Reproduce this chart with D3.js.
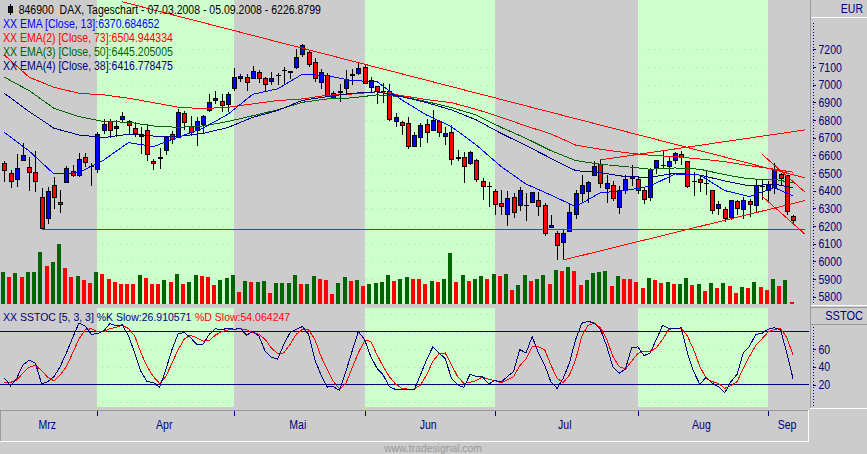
<!DOCTYPE html>
<html lang="de">
<head>
	<meta charset="utf-8">
	<title>DAX Tageschart</title>
	<script src="https://d3js.org/d3.v7.min.js"></script>
	<style>
		html, body { margin: 0; padding: 0; background: #cccccc; overflow: hidden; }
		svg { display: block; }
		text { font-family: "Liberation Sans", Arial, sans-serif; font-size: 12px; }
		.tick text { fill: #000080; font-size: 12.5px; }
		.crisp { shape-rendering: crispEdges; }
	</style>
</head>
<body>
	<div id="chart"></div>
<script>
	// Daily candles, 07.03.2008 - 05.09.2008
	var opens = [6557,6495,6465,6574,6533,6504,6363,6244,6429,6336,6446,6510,6486,6589,6536,6521,6744,6790,6752,6801,
		6792,6754,6718,6742,6567,6584,6627,6720,6703,6839,6763,6740,6776,6854,6911,6907,6890,6979,7037,7041,
		7035,7071,7035,7018,7053,7080,7072,7098,7173,7184,7128,7014,7054,6922,6959,6979,7055,7064,7099,6986,
		6992,6962,6962,6792,6788,6782,6650,6701,6776,6742,6793,6706,6731,6585,6589,6553,6572,6453,6422,6397,
		6325,6266,6363,6317,6314,6334,6346,6317,6193,6159,6108,6172,6266,6386,6395,6488,6550,6414,6431,6304,
		6404,6471,6465,6404,6363,6531,6541,6537,6574,6607,6567,6451,6465,6439,6403,6301,6295,6248,6340,6295,
		6340,6316,6424,6401,6420,6491,6484,6255];
	var closes = [6514,6452,6527,6601,6502,6452,6185,6397,6363,6323,6527,6489,6578,6559,6537,6720,6776,6742,6765,6822,
		6771,6724,6707,6604,6553,6587,6703,6688,6844,6788,6729,6795,6822,6897,6924,6882,6946,7043,7048,7014,
		7077,7035,7003,7037,7055,7082,7074,7156,7224,7115,7037,7071,6941,6952,6961,7031,7057,7094,7007,7022,
		6960,6964,6803,6816,6769,6650,6714,6767,6731,6799,6731,6722,6578,6587,6538,6618,6463,6423,6424,6323,
		6312,6357,6278,6402,6316,6389,6312,6159,6204,6091,6159,6278,6385,6431,6448,6539,6442,6442,6355,6404,
		6465,6480,6403,6352,6520,6569,6543,6567,6612,6588,6423,6453,6446,6441,6289,6323,6244,6346,6299,6346,
		6321,6427,6426,6427,6520,6469,6284,6234];
	var highs = [6570,6518,6606,6669,6593,6625,6414,6423,6480,6404,6542,6546,6612,6612,6555,6735,6805,6805,6801,6846,
		6801,6788,6759,6776,6580,6640,6710,6740,6865,6854,6824,6816,6829,6948,6965,6948,6962,7096,7062,7062,
		7107,7084,7047,7071,7069,7103,7077,7203,7230,7194,7150,7088,7069,6963,7005,7084,7088,7126,7113,7047,
		6994,7009,7003,6839,6797,6816,6735,6782,6809,6858,6801,6763,6773,6631,6620,6627,6578,6470,6452,6408,
		6404,6397,6385,6419,6385,6395,6395,6332,6263,6172,6178,6325,6404,6489,6456,6569,6574,6489,6456,6429,
		6489,6544,6484,6414,6531,6574,6627,6590,6618,6627,6569,6508,6489,6518,6404,6340,6306,6348,6348,6367,
		6353,6465,6465,6456,6556,6499,6489,6263];
	var lows = [6452,6418,6419,6569,6399,6391,6181,6212,6295,6276,6446,6480,6480,6533,6429,6499,6722,6697,6703,6792,
		6718,6707,6608,6570,6518,6523,6601,6665,6699,6744,6710,6656,6725,6846,6892,6848,6846,6967,7014,6967,
		7031,7013,6960,6997,6999,6999,7031,7088,7160,7099,7018,6975,6937,6918,6905,6943,6999,7056,7003,6962,
		6894,6899,6797,6761,6716,6638,6650,6650,6673,6741,6706,6661,6548,6570,6446,6548,6452,6348,6310,6264,
		6263,6202,6248,6287,6230,6332,6259,6146,6189,6008,6008,6165,6242,6333,6329,6484,6418,6333,6344,6270,
		6380,6427,6384,6327,6344,6497,6522,6446,6552,6546,6418,6371,6393,6376,6270,6263,6225,6233,6263,6242,
		6253,6272,6348,6338,6382,6433,6263,6212];

	// Volume has no axis in the picture, so these are relative units
	var volume = [94,79,91,79,94,96,154,112,124,180,106,79,82,70,61,94,88,73,64,58,
		58,58,85,76,58,58,70,64,88,58,64,85,82,79,55,70,76,85,34,67,
		64,64,67,31,61,61,61,85,58,58,82,73,70,28,61,79,67,70,52,58,
		61,64,85,67,73,79,73,73,58,67,64,73,151,64,85,67,73,82,73,88,
		82,88,42,55,85,67,73,85,58,100,97,109,97,55,70,91,94,97,52,82,
		73,73,64,46,76,70,61,64,58,58,76,55,58,37,61,46,61,52,31,49,
		46,64,49,40,73,52,70,6];
	var volumeUp = [1,0,1,0,1,1,1,0,1,1,0,0,1,0,0,1,0,0,0,0,
		0,0,1,0,0,0,1,0,1,0,1,1,0,0,0,1,1,1,0,1,
		0,1,1,0,1,1,1,1,0,1,1,0,0,0,1,1,0,1,0,1,
		1,1,1,0,1,1,0,0,0,1,0,1,1,0,1,0,1,1,0,1,
		0,1,0,1,1,0,1,1,0,1,0,1,0,0,1,1,1,1,0,1,
		0,0,0,0,1,0,0,1,0,1,1,0,1,0,1,0,1,0,0,1,
		0,1,0,0,1,0,1,0];

	var emaBars = [0,4,8,12,16,20,24,28,32,36,40,44,48,52,56,60,64,68,72,76,80,84,88,92,96,100,104,108,112,116,120,124,127];
	var ema13 = [6731,6625,6495,6502,6574,6673,6650,6703,6754,6833,6946,6977,7060,7052,7024,7018,6914,6829,6763,6659,6537,6438,6376,6310,6389,6401,6427,6495,6489,6401,6367,6418,6371];
	var ema73 = [7169,7043,6986,6952,6943,6924,6899,6873,6865,6873,6892,6911,6920,6941,6948,6960,6939,6916,6899,6861,6816,6767,6722,6659,6635,6616,6601,6593,6580,6565,6542,6522,6505];
	var ema50 = [7043,6967,6867,6820,6792,6788,6767,6759,6767,6792,6825,6858,6901,6920,6926,6943,6933,6905,6871,6829,6759,6697,6627,6571,6550,6537,6522,6529,6522,6491,6467,6465,6445];
	var ema38 = [6952,6848,6754,6716,6701,6720,6710,6707,6725,6758,6816,6854,6912,6933,6952,6960,6933,6899,6858,6801,6725,6656,6584,6514,6503,6480,6476,6499,6489,6456,6427,6438,6417];

	// Trend lines: start bar, start price, end bar, end price
	var trendLines = [
		[19, 7470, 129, 6473],
		[6, 6182, 129, 6182],
		[90, 6008, 129, 6345],
		[96, 6575, 129, 6745],
		[122, 6607, 129, 6390],
		[122, 6370, 129, 6152]
	];

	// Slow stochastic
	var stochK = [27.6,18.8,27.2,42.5,47.5,44.4,21.1,23.4,29.1,40.6,55.9,73.1,89.5,86.5,76.9,77.7,80.7,89.1,86.8,87.6,
		75,55.9,34.9,23.4,22.6,16.9,36.8,59.7,77.7,78.8,73.1,65.5,65.8,76.9,83.4,81.9,84.2,82.6,83.8,76.1,
		80,75,57.8,50.9,49,65.5,78.8,82.6,85.7,76.9,48.2,31,17.3,17.7,13.5,34.9,57.8,80,71.2,52,
		38.7,31,17.7,14.6,14.2,14.2,14.2,31,48.2,62.8,55.9,49.4,27.2,19.6,16.9,31.8,29.1,28.8,20.7,24.9,
		23,29.1,34.9,59.7,55.9,74.2,55.9,42.5,23.4,15.8,27.2,44.4,71.2,89.5,91.8,89.5,82.6,63.5,39.8,32.9,
		37.5,61.6,62.8,52.8,55.9,71.2,87.2,83.4,83.4,84.2,55.9,34.9,20.3,28.4,21.5,17.7,10.8,23.4,31.8,55.9,
		63.5,76.9,78,82.6,84.5,81.9,55.9,26.9];
	var stochD = [22.6,22.6,25.3,33,39.8,42.1,36,28.4,24.2,31,40.6,55.9,71.2,81.9,83.4,79.6,79.6,83.4,84.9,87.2,
		83.4,75,55.9,40.6,29.1,21.5,29.1,44.4,59.7,71.9,75.8,73.1,69.3,70,76.1,80,81.9,82.6,83.4,81.9,
		78.8,76.9,71.2,61.6,55.1,55.9,65.5,76.9,82.6,81.9,71.2,52,36.8,23.4,15,21.5,38.7,55.9,69.6,69.3,
		54,40.6,29.1,20.7,15.8,15,15,19.6,31,46.3,55.1,55.9,42.5,29.1,21.5,22.6,24.6,28.8,26.1,24.6,
		22.3,25.3,29.1,41.4,49,62.8,62.8,59.7,42.5,27.2,22.3,31,48.2,75,87.2,89.5,84.5,71.2,52,40.6,
		37.5,46.3,55.1,57.8,57.8,61.6,71.2,82.6,83.8,83.8,75,59.7,40.6,27.2,23.4,21.5,15.8,18.8,23.4,38.7,
		52,64.3,71.9,79.6,82.6,83.4,73.1,54.1];

	var priceTicks = d3.range(5800, 7201, 100);
	var stochTicks = [20, 40, 60];
	var stochGrid = [0, 20, 40, 60, 80, 100];
	var stochLevels = [20, 80];

	// Bar index of the first trading day per month
	var monthStarts = [15, 37, 58, 79, 102, 123];
	var monthNames = ["Mrz", "Apr", "Mai", "Jun", "Jul", "Aug", "Sep"];

	var w = 867;
	var h = 454;
	var plotRight = 809;
	var lastBar = opens.length - 1;

	var x = d3.scaleLinear().domain([0, lastBar]).range([4.33, 4.33 + 6.21 * lastBar]);
	var yPrice = d3.scaleLinear().domain([5770, 7367]).range([302, 20]);
	var yVolume = d3.scaleLinear().domain([0, 180]).range([303.7, 243.7]);
	var yStoch = d3.scaleLinear().domain([-3, 87.5]).range([405, 325]);

	var svg = d3.select("#chart").append("svg")
		.attr("width", w)
		.attr("height", h);

	svg.append("rect").attr("width", w).attr("height", h).attr("fill", "#cccccc");

	// The terminal font is tall and narrow, so squeeze the text sideways
	function squeeze(sel, factor) {
		sel.each(function() {
			d3.select(this)
				.attr("lengthAdjust", "spacingAndGlyphs")
				.attr("textLength", this.getComputedTextLength() * (factor || 0.875));
		});
	}

	// Green bands for every second month
	var bands = [[monthStarts[0], monthStarts[1]], [monthStarts[2], monthStarts[3]], [monthStarts[4], monthStarts[5]]];
	var panels = [[0, 304], [308, 406.7]];
	panels.forEach(function(p) {
		svg.append("g").selectAll("rect")
			.data(bands)
			.enter().append("rect")
			.attr("class", "crisp")
			.attr("x", function(d) { return x(d[0]); })
			.attr("width", function(d) { return x(d[1]) - x(d[0]); })
			.attr("y", p[0])
			.attr("height", p[1] - p[0])
			.attr("fill", "#ccffcc");
	});

	// Dotted grid
	function grid(values, scale) {
		svg.append("g").selectAll("line")
			.data(values)
			.enter().append("line")
			.attr("class", "crisp")
			.attr("x1", 0)
			.attr("x2", plotRight)
			.attr("y1", function(d) { return Math.round(scale(d)) + 0.5; })
			.attr("y2", function(d) { return Math.round(scale(d)) + 0.5; })
			.attr("stroke", "#c8c8c8")
			.attr("stroke-dasharray", "1,5");
	}
	grid(priceTicks, yPrice);
	grid(stochGrid, yStoch);

	// Volume bars
	svg.append("g").selectAll("rect")
		.data(volume)
		.enter().append("rect")
		.attr("class", "crisp")
		.attr("x", function(d, i) { return x(i) - 3.3; })
		.attr("width", 4)
		.attr("y", function(d) { return yVolume(d); })
		.attr("height", function(d) { return yVolume(0) - yVolume(d); })
		.attr("fill", function(d, i) { return volumeUp[i] ? "#006400" : "#ff0000"; });

	// Candles
	var candle = svg.append("g").selectAll("g")
		.data(opens)
		.enter().append("g");

	candle.append("line")
		.attr("class", "crisp")
		.attr("x1", function(d, i) { return Math.round(x(i)) + 0.5; })
		.attr("x2", function(d, i) { return Math.round(x(i)) + 0.5; })
		.attr("y1", function(d, i) { return yPrice(highs[i]); })
		.attr("y2", function(d, i) { return yPrice(lows[i]); })
		.attr("stroke", "#000000");

	candle.append("rect")
		.attr("class", "crisp")
		.attr("x", function(d, i) { return Math.round(x(i)) - 1.5; })
		.attr("width", 4)
		.attr("y", function(d, i) { return yPrice(Math.max(d, closes[i])); })
		.attr("height", function(d, i) { return Math.abs(yPrice(d) - yPrice(closes[i])); })
		.attr("fill", function(d, i) { return closes[i] >= d ? "#0000ff" : "#ff0000"; })
		.attr("stroke", "#000000");

	// Moving averages
	var emaLine = d3.line()
		.x(function(d, i) { return x(emaBars[i]); })
		.y(function(d) { return yPrice(d); });

	[[ema73, "#ff0000"], [ema50, "#006400"], [ema38, "#000080"], [ema13, "#0000ff"]].forEach(function(s) {
		svg.append("path")
			.attr("class", "crisp")
			.attr("d", emaLine(s[0]))
			.attr("fill", "none")
			.attr("stroke", s[1]);
	});

	// Trend lines
	svg.append("g").selectAll("line")
		.data(trendLines)
		.enter().append("line")
		.attr("class", "crisp")
		.attr("x1", function(d) { return x(d[0]); })
		.attr("y1", function(d) { return yPrice(d[1]); })
		.attr("x2", function(d) { return x(d[2]); })
		.attr("y2", function(d) { return yPrice(d[3]); })
		.attr("stroke", "#ff0000");

	// Stochastic panel
	svg.append("g").selectAll("line")
		.data(stochLevels)
		.enter().append("line")
		.attr("class", "crisp")
		.attr("x1", 0)
		.attr("x2", plotRight)
		.attr("y1", function(d) { return yStoch(d); })
		.attr("y2", function(d) { return yStoch(d); })
		.attr("stroke", "#000080");

	var stochLine = d3.line()
		.x(function(d, i) { return x(i); })
		.y(function(d) { return yStoch(d); });

	[[stochD, "#ff0000"], [stochK, "#000080"]].forEach(function(s) {
		svg.append("path")
			.attr("class", "crisp")
			.attr("d", stochLine(s[0]))
			.attr("fill", "none")
			.attr("stroke", s[1]);
	});

	// Right hand axes
	function styleAxis(g) {
		g.select(".domain").attr("stroke", "#000080").attr("stroke-dasharray", "1,2").attr("class", "domain crisp");
		g.selectAll(".tick line").attr("stroke", "#000080").attr("class", "crisp");
		g.selectAll(".tick text").attr("x", 6).call(squeeze, 0.84);
	}
	svg.append("g")
		.attr("transform", "translate(812.5,0)")
		.call(d3.axisRight(yPrice).tickValues(priceTicks).tickSize(3).tickSizeOuter(0).tickFormat(d3.format("d")))
		.call(styleAxis);
	svg.append("g")
		.attr("transform", "translate(812.5,0)")
		.call(d3.axisRight(yStoch).tickValues(stochTicks).tickSize(3).tickSizeOuter(0).tickFormat(d3.format("d")))
		.call(styleAxis);

	// Frames around the axis and time strip
	function frameLine(x1, y1, x2, y2, color) {
		svg.append("line")
			.attr("class", "crisp")
			.attr("x1", x1).attr("y1", y1).attr("x2", x2).attr("y2", y2)
			.attr("stroke", color);
	}
	frameLine(810.5, 0, 810.5, 408, "#999999");
	frameLine(811, 17.5, w, 17.5, "#ffffff");
	frameLine(811, 305.5, w, 305.5, "#ffffff");
	frameLine(811, 307.5, w, 307.5, "#999999");
	frameLine(811, 324.5, w, 324.5, "#999999");
	frameLine(810, 408.5, w, 408.5, "#ffffff");
	frameLine(0, 410.5, 808, 410.5, "#999999");
	frameLine(0.5, 410, 0.5, 441, "#999999");
	frameLine(0, 441.5, 809, 441.5, "#ffffff");
	frameLine(808.5, 410, 808.5, 441, "#ffffff");

	svg.append("text").attr("x", 863).attr("y", 13).attr("text-anchor", "end").attr("fill", "#000080").text("EUR").call(squeeze);
	svg.append("text").attr("x", 863).attr("y", 320).attr("text-anchor", "end").attr("fill", "#000080").text("SSTOC").call(squeeze, 0.92);

	// Time axis
	var monthEdges = [0].concat(monthStarts.map(function(d) { return x(d); })).concat([plotRight]);
	svg.append("g").selectAll("line")
		.data(monthStarts)
		.enter().append("line")
		.attr("class", "crisp")
		.attr("x1", function(d) { return Math.round(x(d)) + 0.5; })
		.attr("x2", function(d) { return Math.round(x(d)) + 0.5; })
		.attr("y1", 411)
		.attr("y2", 416)
		.attr("stroke", "#000080");
	svg.append("g").selectAll("text")
		.data(monthNames)
		.enter().append("text")
		.attr("x", function(d, i) { return (monthEdges[i] + monthEdges[i + 1]) / 2 - 1.5; })
		.attr("y", 429)
		.attr("text-anchor", "middle")
		.attr("fill", "#000080")
		.text(function(d) { return d; })
		.call(squeeze);

	svg.append("text").attr("x", 433).attr("y", 452).attr("text-anchor", "middle").attr("fill", "#999999").style("font-size", "11px").text("www.tradesignal.com").call(squeeze, 0.94);

	// Legend
	var legendRows = [
		["XX EMA [Close, 13]:6370.684652", "#0000ff", 28],
		["XX EMA(2) [Close, 73]:6504.944334", "#ff0000", 42],
		["XX EMA(3) [Close, 50]:6445.205005", "#006400", 56],
		["XX EMA(4) [Close, 38]:6416.778475", "#000080", 70]
	];
	svg.append("g").selectAll("text")
		.data(legendRows)
		.enter().append("text")
		.attr("x", 3)
		.attr("y", function(d) { return d[2]; })
		.attr("fill", function(d) { return d[1]; })
		.text(function(d) { return d[0]; })
		.call(squeeze);

	svg.append("rect").attr("class", "crisp").attr("x", 8.5).attr("y", 6.5).attr("width", 4).attr("height", 6).attr("fill", "#0000ff").attr("stroke", "#000000");
	svg.append("line").attr("class", "crisp").attr("x1", 10.5).attr("x2", 10.5).attr("y1", 4).attr("y2", 15).attr("stroke", "#000000");
	svg.append("text").attr("x", 18.7).attr("y", 14).attr("fill", "#000000").text("846900\u00a0\u00a0DAX, Tageschart - 07.03.2008 - 05.09.2008 - 6226.8799").call(squeeze);

	// Stochastic legend, set small instead of squeezed so the two parts sit side by side
	svg.append("text").attr("x", 3).attr("y", 321).attr("fill", "#000080").style("font-size", "10.5px").text("XX SSTOC [5, 3, 3] %K Slow:26.910571");
	svg.append("text").attr("x", 195).attr("y", 321).attr("fill", "#ff0000").style("font-size", "10.5px").text("%D Slow:54.064247");
</script>
</body>
</html>
